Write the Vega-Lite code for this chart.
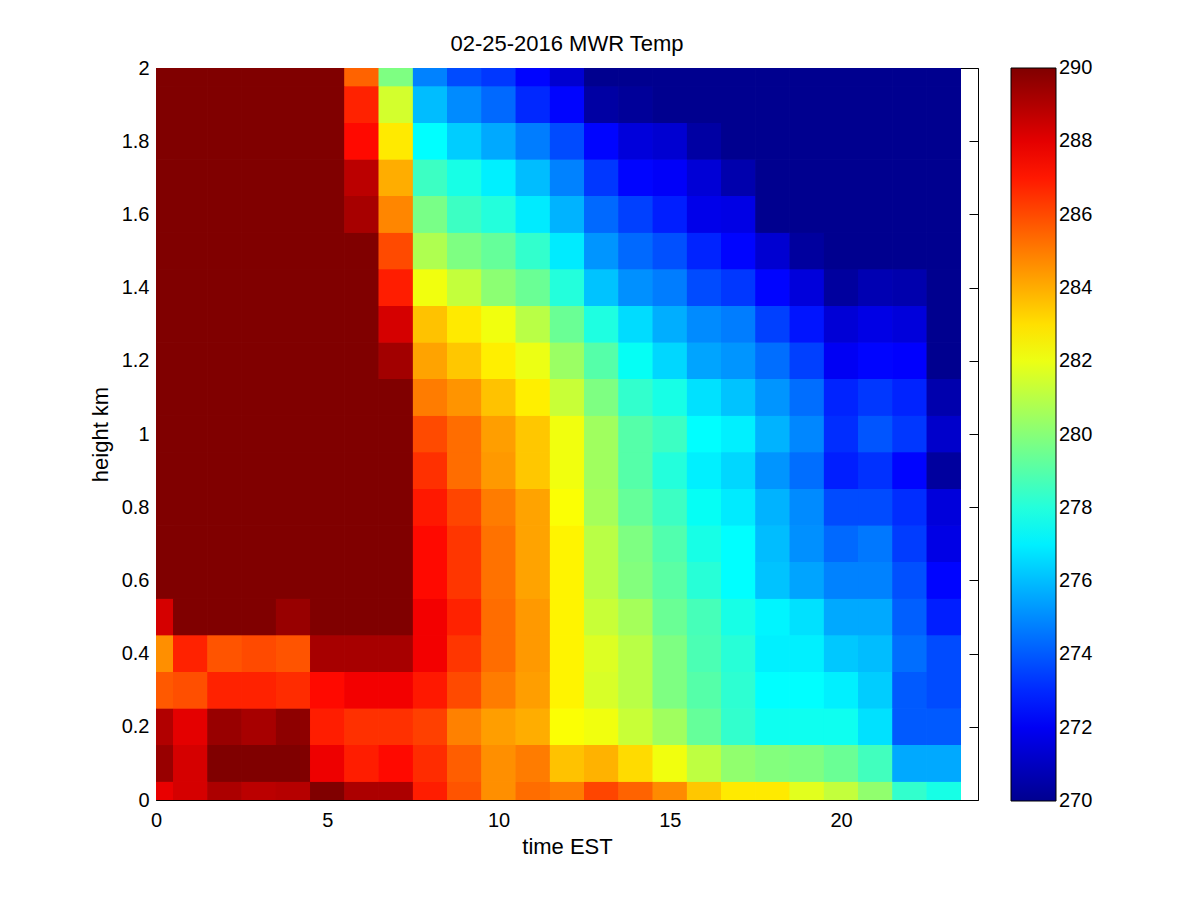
{"$schema":"https://vega.github.io/schema/vega-lite/v6.json","autosize":{"type":"none"},"width":822,"height":732,"padding":{"left":156,"top":68,"right":222,"bottom":100},"background":"white","config":{"view":{"stroke":null},"axis":{"grid":false,"labelFont":"Liberation Sans","titleFont":"Liberation Sans","labelFontSize":20,"titleFontSize":22,"titleFontWeight":"normal","labelColor":"black","titleColor":"black","domainColor":"black","tickColor":"black","domainWidth":1,"tickWidth":1,"labelOverlap":false,"labelFlush":false,"zindex":1},"title":{"font":"Liberation Sans","fontSize":22,"fontWeight":"normal","color":"black"}},
"data":{"values":[
{"t0":0,"t1":0.5,"h0":0,"h1":0.05,"temp":287.9},{"t0":0.5,"t1":1.5,"h0":0,"h1":0.05,"temp":288.3},{"t0":1.5,"t1":2.5,"h0":0,"h1":0.05,"temp":289.1},{"t0":2.5,"t1":3.5,"h0":0,"h1":0.05,"temp":288.8},{"t0":3.5,"t1":4.5,"h0":0,"h1":0.05,"temp":288.9},{"t0":4.5,"t1":5.5,"h0":0,"h1":0.05,"temp":290},{"t0":5.5,"t1":6.5,"h0":0,"h1":0.05,"temp":289.1},{"t0":6.5,"t1":7.5,"h0":0,"h1":0.05,"temp":289.1},{"t0":7.5,"t1":8.5,"h0":0,"h1":0.05,"temp":286.9},{"t0":8.5,"t1":9.5,"h0":0,"h1":0.05,"temp":285.8},{"t0":9.5,"t1":10.5,"h0":0,"h1":0.05,"temp":284.6},{"t0":10.5,"t1":11.5,"h0":0,"h1":0.05,"temp":285.3},{"t0":11.5,"t1":12.5,"h0":0,"h1":0.05,"temp":285},{"t0":12.5,"t1":13.5,"h0":0,"h1":0.05,"temp":286.1},{"t0":13.5,"t1":14.5,"h0":0,"h1":0.05,"temp":285.5},{"t0":14.5,"t1":15.5,"h0":0,"h1":0.05,"temp":284.7},{"t0":15.5,"t1":16.5,"h0":0,"h1":0.05,"temp":283.5},{"t0":16.5,"t1":17.5,"h0":0,"h1":0.05,"temp":282.8},{"t0":17.5,"t1":18.5,"h0":0,"h1":0.05,"temp":282.8},{"t0":18.5,"t1":19.5,"h0":0,"h1":0.05,"temp":281.8},{"t0":19.5,"t1":20.5,"h0":0,"h1":0.05,"temp":281.2},{"t0":20.5,"t1":21.5,"h0":0,"h1":0.05,"temp":280.2},{"t0":21.5,"t1":22.5,"h0":0,"h1":0.05,"temp":278.3},{"t0":22.5,"t1":23.5,"h0":0,"h1":0.05,"temp":277.8},
{"t0":0,"t1":0.5,"h0":0.05,"h1":0.15,"temp":289.5},{"t0":0.5,"t1":1.5,"h0":0.05,"h1":0.15,"temp":288.3},{"t0":1.5,"t1":2.5,"h0":0.05,"h1":0.15,"temp":290},{"t0":2.5,"t1":3.5,"h0":0.05,"h1":0.15,"temp":290},{"t0":3.5,"t1":4.5,"h0":0.05,"h1":0.15,"temp":290},{"t0":4.5,"t1":5.5,"h0":0.05,"h1":0.15,"temp":287.8},{"t0":5.5,"t1":6.5,"h0":0.05,"h1":0.15,"temp":286.9},{"t0":6.5,"t1":7.5,"h0":0.05,"h1":0.15,"temp":287.3},{"t0":7.5,"t1":8.5,"h0":0.05,"h1":0.15,"temp":286.6},{"t0":8.5,"t1":9.5,"h0":0.05,"h1":0.15,"temp":285.6},{"t0":9.5,"t1":10.5,"h0":0.05,"h1":0.15,"temp":284.6},{"t0":10.5,"t1":11.5,"h0":0.05,"h1":0.15,"temp":285},{"t0":11.5,"t1":12.5,"h0":0.05,"h1":0.15,"temp":283.6},{"t0":12.5,"t1":13.5,"h0":0.05,"h1":0.15,"temp":283.9},{"t0":13.5,"t1":14.5,"h0":0.05,"h1":0.15,"temp":283.1},{"t0":14.5,"t1":15.5,"h0":0.05,"h1":0.15,"temp":282.1},{"t0":15.5,"t1":16.5,"h0":0.05,"h1":0.15,"temp":281.1},{"t0":16.5,"t1":17.5,"h0":0.05,"h1":0.15,"temp":280.2},{"t0":17.5,"t1":18.5,"h0":0.05,"h1":0.15,"temp":279.9},{"t0":18.5,"t1":19.5,"h0":0.05,"h1":0.15,"temp":279.8},{"t0":19.5,"t1":20.5,"h0":0.05,"h1":0.15,"temp":279.4},{"t0":20.5,"t1":21.5,"h0":0.05,"h1":0.15,"temp":278.6},{"t0":21.5,"t1":22.5,"h0":0.05,"h1":0.15,"temp":275.6},{"t0":22.5,"t1":23.5,"h0":0.05,"h1":0.15,"temp":275.6},
{"t0":0,"t1":0.5,"h0":0.15,"h1":0.25,"temp":289},{"t0":0.5,"t1":1.5,"h0":0.15,"h1":0.25,"temp":288},{"t0":1.5,"t1":2.5,"h0":0.15,"h1":0.25,"temp":289.5},{"t0":2.5,"t1":3.5,"h0":0.15,"h1":0.25,"temp":289.2},{"t0":3.5,"t1":4.5,"h0":0.15,"h1":0.25,"temp":289.7},{"t0":4.5,"t1":5.5,"h0":0.15,"h1":0.25,"temp":286.9},{"t0":5.5,"t1":6.5,"h0":0.15,"h1":0.25,"temp":286.5},{"t0":6.5,"t1":7.5,"h0":0.15,"h1":0.25,"temp":286.5},{"t0":7.5,"t1":8.5,"h0":0.15,"h1":0.25,"temp":286.2},{"t0":8.5,"t1":9.5,"h0":0.15,"h1":0.25,"temp":284.9},{"t0":9.5,"t1":10.5,"h0":0.15,"h1":0.25,"temp":284.3},{"t0":10.5,"t1":11.5,"h0":0.15,"h1":0.25,"temp":284},{"t0":11.5,"t1":12.5,"h0":0.15,"h1":0.25,"temp":282.3},{"t0":12.5,"t1":13.5,"h0":0.15,"h1":0.25,"temp":282.1},{"t0":13.5,"t1":14.5,"h0":0.15,"h1":0.25,"temp":281.3},{"t0":14.5,"t1":15.5,"h0":0.15,"h1":0.25,"temp":280.5},{"t0":15.5,"t1":16.5,"h0":0.15,"h1":0.25,"temp":279.3},{"t0":16.5,"t1":17.5,"h0":0.15,"h1":0.25,"temp":278.3},{"t0":17.5,"t1":18.5,"h0":0.15,"h1":0.25,"temp":277.6},{"t0":18.5,"t1":19.5,"h0":0.15,"h1":0.25,"temp":277.6},{"t0":19.5,"t1":20.5,"h0":0.15,"h1":0.25,"temp":277.6},{"t0":20.5,"t1":21.5,"h0":0.15,"h1":0.25,"temp":276.7},{"t0":21.5,"t1":22.5,"h0":0.15,"h1":0.25,"temp":274},{"t0":22.5,"t1":23.5,"h0":0.15,"h1":0.25,"temp":274},
{"t0":0,"t1":0.5,"h0":0.25,"h1":0.35,"temp":285.7},{"t0":0.5,"t1":1.5,"h0":0.25,"h1":0.35,"temp":285.9},{"t0":1.5,"t1":2.5,"h0":0.25,"h1":0.35,"temp":286.8},{"t0":2.5,"t1":3.5,"h0":0.25,"h1":0.35,"temp":286.8},{"t0":3.5,"t1":4.5,"h0":0.25,"h1":0.35,"temp":286.6},{"t0":4.5,"t1":5.5,"h0":0.25,"h1":0.35,"temp":287.3},{"t0":5.5,"t1":6.5,"h0":0.25,"h1":0.35,"temp":287.7},{"t0":6.5,"t1":7.5,"h0":0.25,"h1":0.35,"temp":287.7},{"t0":7.5,"t1":8.5,"h0":0.25,"h1":0.35,"temp":287},{"t0":8.5,"t1":9.5,"h0":0.25,"h1":0.35,"temp":286},{"t0":9.5,"t1":10.5,"h0":0.25,"h1":0.35,"temp":285},{"t0":10.5,"t1":11.5,"h0":0.25,"h1":0.35,"temp":284.3},{"t0":11.5,"t1":12.5,"h0":0.25,"h1":0.35,"temp":282.6},{"t0":12.5,"t1":13.5,"h0":0.25,"h1":0.35,"temp":281.6},{"t0":13.5,"t1":14.5,"h0":0.25,"h1":0.35,"temp":281},{"t0":14.5,"t1":15.5,"h0":0.25,"h1":0.35,"temp":279.8},{"t0":15.5,"t1":16.5,"h0":0.25,"h1":0.35,"temp":279},{"t0":16.5,"t1":17.5,"h0":0.25,"h1":0.35,"temp":278.2},{"t0":17.5,"t1":18.5,"h0":0.25,"h1":0.35,"temp":277.3},{"t0":18.5,"t1":19.5,"h0":0.25,"h1":0.35,"temp":277.3},{"t0":19.5,"t1":20.5,"h0":0.25,"h1":0.35,"temp":277},{"t0":20.5,"t1":21.5,"h0":0.25,"h1":0.35,"temp":276.3},{"t0":21.5,"t1":22.5,"h0":0.25,"h1":0.35,"temp":274},{"t0":22.5,"t1":23.5,"h0":0.25,"h1":0.35,"temp":273.7},
{"t0":0,"t1":0.5,"h0":0.35,"h1":0.45,"temp":284.6},{"t0":0.5,"t1":1.5,"h0":0.35,"h1":0.45,"temp":286.8},{"t0":1.5,"t1":2.5,"h0":0.35,"h1":0.45,"temp":285.8},{"t0":2.5,"t1":3.5,"h0":0.35,"h1":0.45,"temp":286},{"t0":3.5,"t1":4.5,"h0":0.35,"h1":0.45,"temp":285.8},{"t0":4.5,"t1":5.5,"h0":0.35,"h1":0.45,"temp":289.2},{"t0":5.5,"t1":6.5,"h0":0.35,"h1":0.45,"temp":289.2},{"t0":6.5,"t1":7.5,"h0":0.35,"h1":0.45,"temp":289.2},{"t0":7.5,"t1":8.5,"h0":0.35,"h1":0.45,"temp":287.7},{"t0":8.5,"t1":9.5,"h0":0.35,"h1":0.45,"temp":286.4},{"t0":9.5,"t1":10.5,"h0":0.35,"h1":0.45,"temp":285.3},{"t0":10.5,"t1":11.5,"h0":0.35,"h1":0.45,"temp":284.4},{"t0":11.5,"t1":12.5,"h0":0.35,"h1":0.45,"temp":282.6},{"t0":12.5,"t1":13.5,"h0":0.35,"h1":0.45,"temp":281.7},{"t0":13.5,"t1":14.5,"h0":0.35,"h1":0.45,"temp":281},{"t0":14.5,"t1":15.5,"h0":0.35,"h1":0.45,"temp":279.8},{"t0":15.5,"t1":16.5,"h0":0.35,"h1":0.45,"temp":278.8},{"t0":16.5,"t1":17.5,"h0":0.35,"h1":0.45,"temp":278.1},{"t0":17.5,"t1":18.5,"h0":0.35,"h1":0.45,"temp":277},{"t0":18.5,"t1":19.5,"h0":0.35,"h1":0.45,"temp":277},{"t0":19.5,"t1":20.5,"h0":0.35,"h1":0.45,"temp":276.2},{"t0":20.5,"t1":21.5,"h0":0.35,"h1":0.45,"temp":276},{"t0":21.5,"t1":22.5,"h0":0.35,"h1":0.45,"temp":274.4},{"t0":22.5,"t1":23.5,"h0":0.35,"h1":0.45,"temp":273.7},
{"t0":0,"t1":0.5,"h0":0.45,"h1":0.55,"temp":288.3},{"t0":0.5,"t1":1.5,"h0":0.45,"h1":0.55,"temp":290},{"t0":1.5,"t1":2.5,"h0":0.45,"h1":0.55,"temp":290},{"t0":2.5,"t1":3.5,"h0":0.45,"h1":0.55,"temp":290},{"t0":3.5,"t1":4.5,"h0":0.45,"h1":0.55,"temp":289.5},{"t0":4.5,"t1":5.5,"h0":0.45,"h1":0.55,"temp":290},{"t0":5.5,"t1":6.5,"h0":0.45,"h1":0.55,"temp":290},{"t0":6.5,"t1":7.5,"h0":0.45,"h1":0.55,"temp":290},{"t0":7.5,"t1":8.5,"h0":0.45,"h1":0.55,"temp":287.7},{"t0":8.5,"t1":9.5,"h0":0.45,"h1":0.55,"temp":286.8},{"t0":9.5,"t1":10.5,"h0":0.45,"h1":0.55,"temp":285.3},{"t0":10.5,"t1":11.5,"h0":0.45,"h1":0.55,"temp":284.4},{"t0":11.5,"t1":12.5,"h0":0.45,"h1":0.55,"temp":282.6},{"t0":12.5,"t1":13.5,"h0":0.45,"h1":0.55,"temp":281.3},{"t0":13.5,"t1":14.5,"h0":0.45,"h1":0.55,"temp":280.6},{"t0":14.5,"t1":15.5,"h0":0.45,"h1":0.55,"temp":279.4},{"t0":15.5,"t1":16.5,"h0":0.45,"h1":0.55,"temp":278.7},{"t0":16.5,"t1":17.5,"h0":0.45,"h1":0.55,"temp":277.8},{"t0":17.5,"t1":18.5,"h0":0.45,"h1":0.55,"temp":277.1},{"t0":18.5,"t1":19.5,"h0":0.45,"h1":0.55,"temp":276.7},{"t0":19.5,"t1":20.5,"h0":0.45,"h1":0.55,"temp":275.6},{"t0":20.5,"t1":21.5,"h0":0.45,"h1":0.55,"temp":275.6},{"t0":21.5,"t1":22.5,"h0":0.45,"h1":0.55,"temp":274.1},{"t0":22.5,"t1":23.5,"h0":0.45,"h1":0.55,"temp":272.8},
{"t0":0,"t1":0.5,"h0":0.55,"h1":0.65,"temp":290},{"t0":0.5,"t1":1.5,"h0":0.55,"h1":0.65,"temp":290},{"t0":1.5,"t1":2.5,"h0":0.55,"h1":0.65,"temp":290},{"t0":2.5,"t1":3.5,"h0":0.55,"h1":0.65,"temp":290},{"t0":3.5,"t1":4.5,"h0":0.55,"h1":0.65,"temp":290},{"t0":4.5,"t1":5.5,"h0":0.55,"h1":0.65,"temp":290},{"t0":5.5,"t1":6.5,"h0":0.55,"h1":0.65,"temp":290},{"t0":6.5,"t1":7.5,"h0":0.55,"h1":0.65,"temp":290},{"t0":7.5,"t1":8.5,"h0":0.55,"h1":0.65,"temp":287.3},{"t0":8.5,"t1":9.5,"h0":0.55,"h1":0.65,"temp":286.4},{"t0":9.5,"t1":10.5,"h0":0.55,"h1":0.65,"temp":285.2},{"t0":10.5,"t1":11.5,"h0":0.55,"h1":0.65,"temp":284.2},{"t0":11.5,"t1":12.5,"h0":0.55,"h1":0.65,"temp":282.6},{"t0":12.5,"t1":13.5,"h0":0.55,"h1":0.65,"temp":281},{"t0":13.5,"t1":14.5,"h0":0.55,"h1":0.65,"temp":279.9},{"t0":14.5,"t1":15.5,"h0":0.55,"h1":0.65,"temp":279.1},{"t0":15.5,"t1":16.5,"h0":0.55,"h1":0.65,"temp":278.1},{"t0":16.5,"t1":17.5,"h0":0.55,"h1":0.65,"temp":277.3},{"t0":17.5,"t1":18.5,"h0":0.55,"h1":0.65,"temp":276.1},{"t0":18.5,"t1":19.5,"h0":0.55,"h1":0.65,"temp":275.5},{"t0":19.5,"t1":20.5,"h0":0.55,"h1":0.65,"temp":274.8},{"t0":20.5,"t1":21.5,"h0":0.55,"h1":0.65,"temp":274.8},{"t0":21.5,"t1":22.5,"h0":0.55,"h1":0.65,"temp":273.8},{"t0":22.5,"t1":23.5,"h0":0.55,"h1":0.65,"temp":272.3},
{"t0":0,"t1":0.5,"h0":0.65,"h1":0.75,"temp":290},{"t0":0.5,"t1":1.5,"h0":0.65,"h1":0.75,"temp":290},{"t0":1.5,"t1":2.5,"h0":0.65,"h1":0.75,"temp":290},{"t0":2.5,"t1":3.5,"h0":0.65,"h1":0.75,"temp":290},{"t0":3.5,"t1":4.5,"h0":0.65,"h1":0.75,"temp":290},{"t0":4.5,"t1":5.5,"h0":0.65,"h1":0.75,"temp":290},{"t0":5.5,"t1":6.5,"h0":0.65,"h1":0.75,"temp":290},{"t0":6.5,"t1":7.5,"h0":0.65,"h1":0.75,"temp":290},{"t0":7.5,"t1":8.5,"h0":0.65,"h1":0.75,"temp":287.3},{"t0":8.5,"t1":9.5,"h0":0.65,"h1":0.75,"temp":286.4},{"t0":9.5,"t1":10.5,"h0":0.65,"h1":0.75,"temp":285.2},{"t0":10.5,"t1":11.5,"h0":0.65,"h1":0.75,"temp":284.2},{"t0":11.5,"t1":12.5,"h0":0.65,"h1":0.75,"temp":282.6},{"t0":12.5,"t1":13.5,"h0":0.65,"h1":0.75,"temp":281},{"t0":13.5,"t1":14.5,"h0":0.65,"h1":0.75,"temp":279.8},{"t0":14.5,"t1":15.5,"h0":0.65,"h1":0.75,"temp":278.9},{"t0":15.5,"t1":16.5,"h0":0.65,"h1":0.75,"temp":277.8},{"t0":16.5,"t1":17.5,"h0":0.65,"h1":0.75,"temp":277.3},{"t0":17.5,"t1":18.5,"h0":0.65,"h1":0.75,"temp":276},{"t0":18.5,"t1":19.5,"h0":0.65,"h1":0.75,"temp":275.1},{"t0":19.5,"t1":20.5,"h0":0.65,"h1":0.75,"temp":274.3},{"t0":20.5,"t1":21.5,"h0":0.65,"h1":0.75,"temp":274.6},{"t0":21.5,"t1":22.5,"h0":0.65,"h1":0.75,"temp":273.4},{"t0":22.5,"t1":23.5,"h0":0.65,"h1":0.75,"temp":271.7},
{"t0":0,"t1":0.5,"h0":0.75,"h1":0.85,"temp":290},{"t0":0.5,"t1":1.5,"h0":0.75,"h1":0.85,"temp":290},{"t0":1.5,"t1":2.5,"h0":0.75,"h1":0.85,"temp":290},{"t0":2.5,"t1":3.5,"h0":0.75,"h1":0.85,"temp":290},{"t0":3.5,"t1":4.5,"h0":0.75,"h1":0.85,"temp":290},{"t0":4.5,"t1":5.5,"h0":0.75,"h1":0.85,"temp":290},{"t0":5.5,"t1":6.5,"h0":0.75,"h1":0.85,"temp":290},{"t0":6.5,"t1":7.5,"h0":0.75,"h1":0.85,"temp":290},{"t0":7.5,"t1":8.5,"h0":0.75,"h1":0.85,"temp":287},{"t0":8.5,"t1":9.5,"h0":0.75,"h1":0.85,"temp":286.1},{"t0":9.5,"t1":10.5,"h0":0.75,"h1":0.85,"temp":285},{"t0":10.5,"t1":11.5,"h0":0.75,"h1":0.85,"temp":284.2},{"t0":11.5,"t1":12.5,"h0":0.75,"h1":0.85,"temp":282.3},{"t0":12.5,"t1":13.5,"h0":0.75,"h1":0.85,"temp":280.6},{"t0":13.5,"t1":14.5,"h0":0.75,"h1":0.85,"temp":279.3},{"t0":14.5,"t1":15.5,"h0":0.75,"h1":0.85,"temp":278.5},{"t0":15.5,"t1":16.5,"h0":0.75,"h1":0.85,"temp":277.5},{"t0":16.5,"t1":17.5,"h0":0.75,"h1":0.85,"temp":276.9},{"t0":17.5,"t1":18.5,"h0":0.75,"h1":0.85,"temp":275.8},{"t0":18.5,"t1":19.5,"h0":0.75,"h1":0.85,"temp":275},{"t0":19.5,"t1":20.5,"h0":0.75,"h1":0.85,"temp":273.7},{"t0":20.5,"t1":21.5,"h0":0.75,"h1":0.85,"temp":273.7},{"t0":21.5,"t1":22.5,"h0":0.75,"h1":0.85,"temp":273.1},{"t0":22.5,"t1":23.5,"h0":0.75,"h1":0.85,"temp":271.5},
{"t0":0,"t1":0.5,"h0":0.85,"h1":0.95,"temp":290},{"t0":0.5,"t1":1.5,"h0":0.85,"h1":0.95,"temp":290},{"t0":1.5,"t1":2.5,"h0":0.85,"h1":0.95,"temp":290},{"t0":2.5,"t1":3.5,"h0":0.85,"h1":0.95,"temp":290},{"t0":3.5,"t1":4.5,"h0":0.85,"h1":0.95,"temp":290},{"t0":4.5,"t1":5.5,"h0":0.85,"h1":0.95,"temp":290},{"t0":5.5,"t1":6.5,"h0":0.85,"h1":0.95,"temp":290},{"t0":6.5,"t1":7.5,"h0":0.85,"h1":0.95,"temp":290},{"t0":7.5,"t1":8.5,"h0":0.85,"h1":0.95,"temp":286.5},{"t0":8.5,"t1":9.5,"h0":0.85,"h1":0.95,"temp":285.3},{"t0":9.5,"t1":10.5,"h0":0.85,"h1":0.95,"temp":284.4},{"t0":10.5,"t1":11.5,"h0":0.85,"h1":0.95,"temp":283.5},{"t0":11.5,"t1":12.5,"h0":0.85,"h1":0.95,"temp":282.1},{"t0":12.5,"t1":13.5,"h0":0.85,"h1":0.95,"temp":280.5},{"t0":13.5,"t1":14.5,"h0":0.85,"h1":0.95,"temp":279},{"t0":14.5,"t1":15.5,"h0":0.85,"h1":0.95,"temp":278},{"t0":15.5,"t1":16.5,"h0":0.85,"h1":0.95,"temp":277},{"t0":16.5,"t1":17.5,"h0":0.85,"h1":0.95,"temp":276.5},{"t0":17.5,"t1":18.5,"h0":0.85,"h1":0.95,"temp":275.2},{"t0":18.5,"t1":19.5,"h0":0.85,"h1":0.95,"temp":274.4},{"t0":19.5,"t1":20.5,"h0":0.85,"h1":0.95,"temp":272.8},{"t0":20.5,"t1":21.5,"h0":0.85,"h1":0.95,"temp":273.2},{"t0":21.5,"t1":22.5,"h0":0.85,"h1":0.95,"temp":272.3},{"t0":22.5,"t1":23.5,"h0":0.85,"h1":0.95,"temp":270.3},
{"t0":0,"t1":0.5,"h0":0.95,"h1":1.05,"temp":290},{"t0":0.5,"t1":1.5,"h0":0.95,"h1":1.05,"temp":290},{"t0":1.5,"t1":2.5,"h0":0.95,"h1":1.05,"temp":290},{"t0":2.5,"t1":3.5,"h0":0.95,"h1":1.05,"temp":290},{"t0":3.5,"t1":4.5,"h0":0.95,"h1":1.05,"temp":290},{"t0":4.5,"t1":5.5,"h0":0.95,"h1":1.05,"temp":290},{"t0":5.5,"t1":6.5,"h0":0.95,"h1":1.05,"temp":290},{"t0":6.5,"t1":7.5,"h0":0.95,"h1":1.05,"temp":290},{"t0":7.5,"t1":8.5,"h0":0.95,"h1":1.05,"temp":286},{"t0":8.5,"t1":9.5,"h0":0.95,"h1":1.05,"temp":285.3},{"t0":9.5,"t1":10.5,"h0":0.95,"h1":1.05,"temp":284.3},{"t0":10.5,"t1":11.5,"h0":0.95,"h1":1.05,"temp":283.5},{"t0":11.5,"t1":12.5,"h0":0.95,"h1":1.05,"temp":282.1},{"t0":12.5,"t1":13.5,"h0":0.95,"h1":1.05,"temp":280.5},{"t0":13.5,"t1":14.5,"h0":0.95,"h1":1.05,"temp":279},{"t0":14.5,"t1":15.5,"h0":0.95,"h1":1.05,"temp":278.5},{"t0":15.5,"t1":16.5,"h0":0.95,"h1":1.05,"temp":277.3},{"t0":16.5,"t1":17.5,"h0":0.95,"h1":1.05,"temp":277},{"t0":17.5,"t1":18.5,"h0":0.95,"h1":1.05,"temp":275.8},{"t0":18.5,"t1":19.5,"h0":0.95,"h1":1.05,"temp":274.9},{"t0":19.5,"t1":20.5,"h0":0.95,"h1":1.05,"temp":273.1},{"t0":20.5,"t1":21.5,"h0":0.95,"h1":1.05,"temp":273.9},{"t0":21.5,"t1":22.5,"h0":0.95,"h1":1.05,"temp":273.3},{"t0":22.5,"t1":23.5,"h0":0.95,"h1":1.05,"temp":271.2},
{"t0":0,"t1":0.5,"h0":1.05,"h1":1.15,"temp":290},{"t0":0.5,"t1":1.5,"h0":1.05,"h1":1.15,"temp":290},{"t0":1.5,"t1":2.5,"h0":1.05,"h1":1.15,"temp":290},{"t0":2.5,"t1":3.5,"h0":1.05,"h1":1.15,"temp":290},{"t0":3.5,"t1":4.5,"h0":1.05,"h1":1.15,"temp":290},{"t0":4.5,"t1":5.5,"h0":1.05,"h1":1.15,"temp":290},{"t0":5.5,"t1":6.5,"h0":1.05,"h1":1.15,"temp":290},{"t0":6.5,"t1":7.5,"h0":1.05,"h1":1.15,"temp":290},{"t0":7.5,"t1":8.5,"h0":1.05,"h1":1.15,"temp":285},{"t0":8.5,"t1":9.5,"h0":1.05,"h1":1.15,"temp":284.5},{"t0":9.5,"t1":10.5,"h0":1.05,"h1":1.15,"temp":283.6},{"t0":10.5,"t1":11.5,"h0":1.05,"h1":1.15,"temp":282.7},{"t0":11.5,"t1":12.5,"h0":1.05,"h1":1.15,"temp":281.3},{"t0":12.5,"t1":13.5,"h0":1.05,"h1":1.15,"temp":279.8},{"t0":13.5,"t1":14.5,"h0":1.05,"h1":1.15,"temp":278.3},{"t0":14.5,"t1":15.5,"h0":1.05,"h1":1.15,"temp":277.8},{"t0":15.5,"t1":16.5,"h0":1.05,"h1":1.15,"temp":276.7},{"t0":16.5,"t1":17.5,"h0":1.05,"h1":1.15,"temp":276.1},{"t0":17.5,"t1":18.5,"h0":1.05,"h1":1.15,"temp":275.2},{"t0":18.5,"t1":19.5,"h0":1.05,"h1":1.15,"temp":274.4},{"t0":19.5,"t1":20.5,"h0":1.05,"h1":1.15,"temp":272.9},{"t0":20.5,"t1":21.5,"h0":1.05,"h1":1.15,"temp":273.3},{"t0":21.5,"t1":22.5,"h0":1.05,"h1":1.15,"temp":272.9},{"t0":22.5,"t1":23.5,"h0":1.05,"h1":1.15,"temp":270.6},
{"t0":0,"t1":0.5,"h0":1.15,"h1":1.25,"temp":290},{"t0":0.5,"t1":1.5,"h0":1.15,"h1":1.25,"temp":290},{"t0":1.5,"t1":2.5,"h0":1.15,"h1":1.25,"temp":290},{"t0":2.5,"t1":3.5,"h0":1.15,"h1":1.25,"temp":290},{"t0":3.5,"t1":4.5,"h0":1.15,"h1":1.25,"temp":290},{"t0":4.5,"t1":5.5,"h0":1.15,"h1":1.25,"temp":290},{"t0":5.5,"t1":6.5,"h0":1.15,"h1":1.25,"temp":290},{"t0":6.5,"t1":7.5,"h0":1.15,"h1":1.25,"temp":289.3},{"t0":7.5,"t1":8.5,"h0":1.15,"h1":1.25,"temp":284.2},{"t0":8.5,"t1":9.5,"h0":1.15,"h1":1.25,"temp":283.5},{"t0":9.5,"t1":10.5,"h0":1.15,"h1":1.25,"temp":282.7},{"t0":10.5,"t1":11.5,"h0":1.15,"h1":1.25,"temp":282},{"t0":11.5,"t1":12.5,"h0":1.15,"h1":1.25,"temp":280.4},{"t0":12.5,"t1":13.5,"h0":1.15,"h1":1.25,"temp":279},{"t0":13.5,"t1":14.5,"h0":1.15,"h1":1.25,"temp":277.5},{"t0":14.5,"t1":15.5,"h0":1.15,"h1":1.25,"temp":276.5},{"t0":15.5,"t1":16.5,"h0":1.15,"h1":1.25,"temp":275.5},{"t0":16.5,"t1":17.5,"h0":1.15,"h1":1.25,"temp":275.2},{"t0":17.5,"t1":18.5,"h0":1.15,"h1":1.25,"temp":274.4},{"t0":18.5,"t1":19.5,"h0":1.15,"h1":1.25,"temp":273.5},{"t0":19.5,"t1":20.5,"h0":1.15,"h1":1.25,"temp":272},{"t0":20.5,"t1":21.5,"h0":1.15,"h1":1.25,"temp":272.3},{"t0":21.5,"t1":22.5,"h0":1.15,"h1":1.25,"temp":272.2},{"t0":22.5,"t1":23.5,"h0":1.15,"h1":1.25,"temp":270},
{"t0":0,"t1":0.5,"h0":1.25,"h1":1.35,"temp":290},{"t0":0.5,"t1":1.5,"h0":1.25,"h1":1.35,"temp":290},{"t0":1.5,"t1":2.5,"h0":1.25,"h1":1.35,"temp":290},{"t0":2.5,"t1":3.5,"h0":1.25,"h1":1.35,"temp":290},{"t0":3.5,"t1":4.5,"h0":1.25,"h1":1.35,"temp":290},{"t0":4.5,"t1":5.5,"h0":1.25,"h1":1.35,"temp":290},{"t0":5.5,"t1":6.5,"h0":1.25,"h1":1.35,"temp":290},{"t0":6.5,"t1":7.5,"h0":1.25,"h1":1.35,"temp":288.3},{"t0":7.5,"t1":8.5,"h0":1.25,"h1":1.35,"temp":283.6},{"t0":8.5,"t1":9.5,"h0":1.25,"h1":1.35,"temp":282.8},{"t0":9.5,"t1":10.5,"h0":1.25,"h1":1.35,"temp":282.1},{"t0":10.5,"t1":11.5,"h0":1.25,"h1":1.35,"temp":281},{"t0":11.5,"t1":12.5,"h0":1.25,"h1":1.35,"temp":279.4},{"t0":12.5,"t1":13.5,"h0":1.25,"h1":1.35,"temp":277.9},{"t0":13.5,"t1":14.5,"h0":1.25,"h1":1.35,"temp":276.6},{"t0":14.5,"t1":15.5,"h0":1.25,"h1":1.35,"temp":275.7},{"t0":15.5,"t1":16.5,"h0":1.25,"h1":1.35,"temp":275},{"t0":16.5,"t1":17.5,"h0":1.25,"h1":1.35,"temp":274.7},{"t0":17.5,"t1":18.5,"h0":1.25,"h1":1.35,"temp":273.5},{"t0":18.5,"t1":19.5,"h0":1.25,"h1":1.35,"temp":272.6},{"t0":19.5,"t1":20.5,"h0":1.25,"h1":1.35,"temp":271.4},{"t0":20.5,"t1":21.5,"h0":1.25,"h1":1.35,"temp":271.7},{"t0":21.5,"t1":22.5,"h0":1.25,"h1":1.35,"temp":271.5},{"t0":22.5,"t1":23.5,"h0":1.25,"h1":1.35,"temp":270},
{"t0":0,"t1":0.5,"h0":1.35,"h1":1.45,"temp":290},{"t0":0.5,"t1":1.5,"h0":1.35,"h1":1.45,"temp":290},{"t0":1.5,"t1":2.5,"h0":1.35,"h1":1.45,"temp":290},{"t0":2.5,"t1":3.5,"h0":1.35,"h1":1.45,"temp":290},{"t0":3.5,"t1":4.5,"h0":1.35,"h1":1.45,"temp":290},{"t0":4.5,"t1":5.5,"h0":1.35,"h1":1.45,"temp":290},{"t0":5.5,"t1":6.5,"h0":1.35,"h1":1.45,"temp":290},{"t0":6.5,"t1":7.5,"h0":1.35,"h1":1.45,"temp":286.9},{"t0":7.5,"t1":8.5,"h0":1.35,"h1":1.45,"temp":282.1},{"t0":8.5,"t1":9.5,"h0":1.35,"h1":1.45,"temp":281.2},{"t0":9.5,"t1":10.5,"h0":1.35,"h1":1.45,"temp":280.1},{"t0":10.5,"t1":11.5,"h0":1.35,"h1":1.45,"temp":279.4},{"t0":11.5,"t1":12.5,"h0":1.35,"h1":1.45,"temp":278},{"t0":12.5,"t1":13.5,"h0":1.35,"h1":1.45,"temp":276.1},{"t0":13.5,"t1":14.5,"h0":1.35,"h1":1.45,"temp":275.1},{"t0":14.5,"t1":15.5,"h0":1.35,"h1":1.45,"temp":274.7},{"t0":15.5,"t1":16.5,"h0":1.35,"h1":1.45,"temp":273.7},{"t0":16.5,"t1":17.5,"h0":1.35,"h1":1.45,"temp":273.3},{"t0":17.5,"t1":18.5,"h0":1.35,"h1":1.45,"temp":272.3},{"t0":18.5,"t1":19.5,"h0":1.35,"h1":1.45,"temp":271.5},{"t0":19.5,"t1":20.5,"h0":1.35,"h1":1.45,"temp":270.3},{"t0":20.5,"t1":21.5,"h0":1.35,"h1":1.45,"temp":270.7},{"t0":21.5,"t1":22.5,"h0":1.35,"h1":1.45,"temp":270.6},{"t0":22.5,"t1":23.5,"h0":1.35,"h1":1.45,"temp":270},
{"t0":0,"t1":0.5,"h0":1.45,"h1":1.55,"temp":290},{"t0":0.5,"t1":1.5,"h0":1.45,"h1":1.55,"temp":290},{"t0":1.5,"t1":2.5,"h0":1.45,"h1":1.55,"temp":290},{"t0":2.5,"t1":3.5,"h0":1.45,"h1":1.55,"temp":290},{"t0":3.5,"t1":4.5,"h0":1.45,"h1":1.55,"temp":290},{"t0":4.5,"t1":5.5,"h0":1.45,"h1":1.55,"temp":290},{"t0":5.5,"t1":6.5,"h0":1.45,"h1":1.55,"temp":290},{"t0":6.5,"t1":7.5,"h0":1.45,"h1":1.55,"temp":286},{"t0":7.5,"t1":8.5,"h0":1.45,"h1":1.55,"temp":280.8},{"t0":8.5,"t1":9.5,"h0":1.45,"h1":1.55,"temp":279.8},{"t0":9.5,"t1":10.5,"h0":1.45,"h1":1.55,"temp":279.3},{"t0":10.5,"t1":11.5,"h0":1.45,"h1":1.55,"temp":278.3},{"t0":11.5,"t1":12.5,"h0":1.45,"h1":1.55,"temp":276.9},{"t0":12.5,"t1":13.5,"h0":1.45,"h1":1.55,"temp":275.2},{"t0":13.5,"t1":14.5,"h0":1.45,"h1":1.55,"temp":274.3},{"t0":14.5,"t1":15.5,"h0":1.45,"h1":1.55,"temp":273.8},{"t0":15.5,"t1":16.5,"h0":1.45,"h1":1.55,"temp":272.9},{"t0":16.5,"t1":17.5,"h0":1.45,"h1":1.55,"temp":272.3},{"t0":17.5,"t1":18.5,"h0":1.45,"h1":1.55,"temp":271.3},{"t0":18.5,"t1":19.5,"h0":1.45,"h1":1.55,"temp":270.3},{"t0":19.5,"t1":20.5,"h0":1.45,"h1":1.55,"temp":270},{"t0":20.5,"t1":21.5,"h0":1.45,"h1":1.55,"temp":270},{"t0":21.5,"t1":22.5,"h0":1.45,"h1":1.55,"temp":270},{"t0":22.5,"t1":23.5,"h0":1.45,"h1":1.55,"temp":270},
{"t0":0,"t1":0.5,"h0":1.55,"h1":1.65,"temp":290},{"t0":0.5,"t1":1.5,"h0":1.55,"h1":1.65,"temp":290},{"t0":1.5,"t1":2.5,"h0":1.55,"h1":1.65,"temp":290},{"t0":2.5,"t1":3.5,"h0":1.55,"h1":1.65,"temp":290},{"t0":3.5,"t1":4.5,"h0":1.55,"h1":1.65,"temp":290},{"t0":4.5,"t1":5.5,"h0":1.55,"h1":1.65,"temp":290},{"t0":5.5,"t1":6.5,"h0":1.55,"h1":1.65,"temp":289.2},{"t0":6.5,"t1":7.5,"h0":1.55,"h1":1.65,"temp":284.8},{"t0":7.5,"t1":8.5,"h0":1.55,"h1":1.65,"temp":279.7},{"t0":8.5,"t1":9.5,"h0":1.55,"h1":1.65,"temp":278.5},{"t0":9.5,"t1":10.5,"h0":1.55,"h1":1.65,"temp":278},{"t0":10.5,"t1":11.5,"h0":1.55,"h1":1.65,"temp":276.9},{"t0":11.5,"t1":12.5,"h0":1.55,"h1":1.65,"temp":275.8},{"t0":12.5,"t1":13.5,"h0":1.55,"h1":1.65,"temp":274.3},{"t0":13.5,"t1":14.5,"h0":1.55,"h1":1.65,"temp":273.5},{"t0":14.5,"t1":15.5,"h0":1.55,"h1":1.65,"temp":272.8},{"t0":15.5,"t1":16.5,"h0":1.55,"h1":1.65,"temp":271.8},{"t0":16.5,"t1":17.5,"h0":1.55,"h1":1.65,"temp":271.7},{"t0":17.5,"t1":18.5,"h0":1.55,"h1":1.65,"temp":270},{"t0":18.5,"t1":19.5,"h0":1.55,"h1":1.65,"temp":270},{"t0":19.5,"t1":20.5,"h0":1.55,"h1":1.65,"temp":270},{"t0":20.5,"t1":21.5,"h0":1.55,"h1":1.65,"temp":270},{"t0":21.5,"t1":22.5,"h0":1.55,"h1":1.65,"temp":270},{"t0":22.5,"t1":23.5,"h0":1.55,"h1":1.65,"temp":270},
{"t0":0,"t1":0.5,"h0":1.65,"h1":1.75,"temp":290},{"t0":0.5,"t1":1.5,"h0":1.65,"h1":1.75,"temp":290},{"t0":1.5,"t1":2.5,"h0":1.65,"h1":1.75,"temp":290},{"t0":2.5,"t1":3.5,"h0":1.65,"h1":1.75,"temp":290},{"t0":3.5,"t1":4.5,"h0":1.65,"h1":1.75,"temp":290},{"t0":4.5,"t1":5.5,"h0":1.65,"h1":1.75,"temp":290},{"t0":5.5,"t1":6.5,"h0":1.65,"h1":1.75,"temp":288.8},{"t0":6.5,"t1":7.5,"h0":1.65,"h1":1.75,"temp":284},{"t0":7.5,"t1":8.5,"h0":1.65,"h1":1.75,"temp":278.5},{"t0":8.5,"t1":9.5,"h0":1.65,"h1":1.75,"temp":277.8},{"t0":9.5,"t1":10.5,"h0":1.65,"h1":1.75,"temp":277},{"t0":10.5,"t1":11.5,"h0":1.65,"h1":1.75,"temp":276},{"t0":11.5,"t1":12.5,"h0":1.65,"h1":1.75,"temp":274.8},{"t0":12.5,"t1":13.5,"h0":1.65,"h1":1.75,"temp":273.3},{"t0":13.5,"t1":14.5,"h0":1.65,"h1":1.75,"temp":272.3},{"t0":14.5,"t1":15.5,"h0":1.65,"h1":1.75,"temp":272.1},{"t0":15.5,"t1":16.5,"h0":1.65,"h1":1.75,"temp":271.4},{"t0":16.5,"t1":17.5,"h0":1.65,"h1":1.75,"temp":270.6},{"t0":17.5,"t1":18.5,"h0":1.65,"h1":1.75,"temp":270},{"t0":18.5,"t1":19.5,"h0":1.65,"h1":1.75,"temp":270},{"t0":19.5,"t1":20.5,"h0":1.65,"h1":1.75,"temp":270},{"t0":20.5,"t1":21.5,"h0":1.65,"h1":1.75,"temp":270},{"t0":21.5,"t1":22.5,"h0":1.65,"h1":1.75,"temp":270},{"t0":22.5,"t1":23.5,"h0":1.65,"h1":1.75,"temp":270},
{"t0":0,"t1":0.5,"h0":1.75,"h1":1.85,"temp":290},{"t0":0.5,"t1":1.5,"h0":1.75,"h1":1.85,"temp":290},{"t0":1.5,"t1":2.5,"h0":1.75,"h1":1.85,"temp":290},{"t0":2.5,"t1":3.5,"h0":1.75,"h1":1.85,"temp":290},{"t0":3.5,"t1":4.5,"h0":1.75,"h1":1.85,"temp":290},{"t0":4.5,"t1":5.5,"h0":1.75,"h1":1.85,"temp":290},{"t0":5.5,"t1":6.5,"h0":1.75,"h1":1.85,"temp":287.3},{"t0":6.5,"t1":7.5,"h0":1.75,"h1":1.85,"temp":282.8},{"t0":7.5,"t1":8.5,"h0":1.75,"h1":1.85,"temp":277.3},{"t0":8.5,"t1":9.5,"h0":1.75,"h1":1.85,"temp":276.3},{"t0":9.5,"t1":10.5,"h0":1.75,"h1":1.85,"temp":275.6},{"t0":10.5,"t1":11.5,"h0":1.75,"h1":1.85,"temp":274.7},{"t0":11.5,"t1":12.5,"h0":1.75,"h1":1.85,"temp":273.7},{"t0":12.5,"t1":13.5,"h0":1.75,"h1":1.85,"temp":272.3},{"t0":13.5,"t1":14.5,"h0":1.75,"h1":1.85,"temp":271.5},{"t0":14.5,"t1":15.5,"h0":1.75,"h1":1.85,"temp":271.3},{"t0":15.5,"t1":16.5,"h0":1.75,"h1":1.85,"temp":270.4},{"t0":16.5,"t1":17.5,"h0":1.75,"h1":1.85,"temp":270},{"t0":17.5,"t1":18.5,"h0":1.75,"h1":1.85,"temp":270},{"t0":18.5,"t1":19.5,"h0":1.75,"h1":1.85,"temp":270},{"t0":19.5,"t1":20.5,"h0":1.75,"h1":1.85,"temp":270},{"t0":20.5,"t1":21.5,"h0":1.75,"h1":1.85,"temp":270},{"t0":21.5,"t1":22.5,"h0":1.75,"h1":1.85,"temp":270},{"t0":22.5,"t1":23.5,"h0":1.75,"h1":1.85,"temp":270},
{"t0":0,"t1":0.5,"h0":1.85,"h1":1.95,"temp":290},{"t0":0.5,"t1":1.5,"h0":1.85,"h1":1.95,"temp":290},{"t0":1.5,"t1":2.5,"h0":1.85,"h1":1.95,"temp":290},{"t0":2.5,"t1":3.5,"h0":1.85,"h1":1.95,"temp":290},{"t0":3.5,"t1":4.5,"h0":1.85,"h1":1.95,"temp":290},{"t0":4.5,"t1":5.5,"h0":1.85,"h1":1.95,"temp":290},{"t0":5.5,"t1":6.5,"h0":1.85,"h1":1.95,"temp":286.8},{"t0":6.5,"t1":7.5,"h0":1.85,"h1":1.95,"temp":281.5},{"t0":7.5,"t1":8.5,"h0":1.85,"h1":1.95,"temp":276},{"t0":8.5,"t1":9.5,"h0":1.85,"h1":1.95,"temp":275},{"t0":9.5,"t1":10.5,"h0":1.85,"h1":1.95,"temp":274.3},{"t0":10.5,"t1":11.5,"h0":1.85,"h1":1.95,"temp":273},{"t0":11.5,"t1":12.5,"h0":1.85,"h1":1.95,"temp":272.3},{"t0":12.5,"t1":13.5,"h0":1.85,"h1":1.95,"temp":270.4},{"t0":13.5,"t1":14.5,"h0":1.85,"h1":1.95,"temp":270.2},{"t0":14.5,"t1":15.5,"h0":1.85,"h1":1.95,"temp":270},{"t0":15.5,"t1":16.5,"h0":1.85,"h1":1.95,"temp":270},{"t0":16.5,"t1":17.5,"h0":1.85,"h1":1.95,"temp":270},{"t0":17.5,"t1":18.5,"h0":1.85,"h1":1.95,"temp":270},{"t0":18.5,"t1":19.5,"h0":1.85,"h1":1.95,"temp":270},{"t0":19.5,"t1":20.5,"h0":1.85,"h1":1.95,"temp":270},{"t0":20.5,"t1":21.5,"h0":1.85,"h1":1.95,"temp":270},{"t0":21.5,"t1":22.5,"h0":1.85,"h1":1.95,"temp":270},{"t0":22.5,"t1":23.5,"h0":1.85,"h1":1.95,"temp":270},
{"t0":0,"t1":0.5,"h0":1.95,"h1":2,"temp":290},{"t0":0.5,"t1":1.5,"h0":1.95,"h1":2,"temp":290},{"t0":1.5,"t1":2.5,"h0":1.95,"h1":2,"temp":290},{"t0":2.5,"t1":3.5,"h0":1.95,"h1":2,"temp":290},{"t0":3.5,"t1":4.5,"h0":1.95,"h1":2,"temp":290},{"t0":4.5,"t1":5.5,"h0":1.95,"h1":2,"temp":290},{"t0":5.5,"t1":6.5,"h0":1.95,"h1":2,"temp":285.5},{"t0":6.5,"t1":7.5,"h0":1.95,"h1":2,"temp":279.8},{"t0":7.5,"t1":8.5,"h0":1.95,"h1":2,"temp":274.8},{"t0":8.5,"t1":9.5,"h0":1.95,"h1":2,"temp":273.7},{"t0":9.5,"t1":10.5,"h0":1.95,"h1":2,"temp":273.3},{"t0":10.5,"t1":11.5,"h0":1.95,"h1":2,"temp":272.3},{"t0":11.5,"t1":12.5,"h0":1.95,"h1":2,"temp":271.3},{"t0":12.5,"t1":13.5,"h0":1.95,"h1":2,"temp":270},{"t0":13.5,"t1":14.5,"h0":1.95,"h1":2,"temp":270},{"t0":14.5,"t1":15.5,"h0":1.95,"h1":2,"temp":270},{"t0":15.5,"t1":16.5,"h0":1.95,"h1":2,"temp":270},{"t0":16.5,"t1":17.5,"h0":1.95,"h1":2,"temp":270},{"t0":17.5,"t1":18.5,"h0":1.95,"h1":2,"temp":270},{"t0":18.5,"t1":19.5,"h0":1.95,"h1":2,"temp":270},{"t0":19.5,"t1":20.5,"h0":1.95,"h1":2,"temp":270},{"t0":20.5,"t1":21.5,"h0":1.95,"h1":2,"temp":270},{"t0":21.5,"t1":22.5,"h0":1.95,"h1":2,"temp":270},{"t0":22.5,"t1":23.5,"h0":1.95,"h1":2,"temp":270}
]},
"title":{"text":"02-25-2016 MWR Temp","fontSize":22,"offset":2},
"encoding":{"color":{"field":"temp","type":"quantitative","legend":{"orient":"none","legendX":855,"legendY":0,"title":null,"direction":"vertical","gradientLength":733,"gradientThickness":45,"labelFont":"Liberation Sans","labelFontSize":20,"labelColor":"black","values":[270.001,272,274,276,278,280,282,284,286,288,289.999],"format":"d","gradientStrokeColor":"black","gradientStrokeWidth":1,"labelOverlap":false,"labelOffset":3},"scale":{"type":"linear","domain":[270,290],"nice":false,"zero":false,"range":["#00008f","#00009f","#0000af","#0000bf","#0000cf","#0000df","#0000ef","#0000ff","#0010ff","#0020ff","#0030ff","#0040ff","#0050ff","#0060ff","#0070ff","#0080ff","#008fff","#009fff","#00afff","#00bfff","#00cfff","#00dfff","#00efff","#00ffff","#10ffef","#20ffdf","#30ffcf","#40ffbf","#50ffaf","#60ff9f","#70ff8f","#80ff80","#8fff70","#9fff60","#afff50","#bfff40","#cfff30","#dfff20","#efff10","#ffff00","#ffef00","#ffdf00","#ffcf00","#ffbf00","#ffaf00","#ff9f00","#ff8f00","#ff8000","#ff7000","#ff6000","#ff5000","#ff4000","#ff3000","#ff2000","#ff1000","#ff0000","#ef0000","#df0000","#cf0000","#bf0000","#af0000","#9f0000","#8f0000","#800000"]}}},
"layer":[
{"mark":{"type":"rect"},"encoding":{"x":{"field":"t0","type":"quantitative","axis":null},"x2":{"field":"t1"},"y":{"field":"h0","type":"quantitative","axis":null},"y2":{"field":"h1"}}},
{"mark":{"type":"rect"},"encoding":{"x":{"field":"t0","type":"quantitative","axis":null},"x2":{"field":"t1"},"y":{"field":"h0","type":"quantitative","axis":null},"y2":{"field":"h1"}}},
{"mark":{"type":"rect"},"encoding":{
"x":{"field":"t0","type":"quantitative","scale":{"domain":[0,24],"nice":false,"zero":false},"axis":{"orient":"bottom","values":[0,5,10,15,20],"tickSize":-9,"labelPadding":19,"title":"time EST","titlePadding":6}},"x2":{"field":"t1"},
"y":{"field":"h0","type":"quantitative","scale":{"domain":[0,2],"nice":false,"zero":false},"axis":{"orient":"left","values":[0,0.2,0.4,0.6,0.8,1,1.2,1.4,1.6,1.8,2],"format":"~g","tickSize":-9,"labelPadding":16,"title":"height km","titlePadding":9}},"y2":{"field":"h1"}}},
{"mark":{"type":"rect","opacity":0},"encoding":{
"x":{"field":"t0","type":"quantitative","axis":{"orient":"top","values":[0,5,10,15,20],"tickSize":-9,"labels":false,"title":null}},"x2":{"field":"t1"},
"y":{"field":"h0","type":"quantitative","axis":{"orient":"right","values":[0,0.2,0.4,0.6,0.8,1,1.2,1.4,1.6,1.8,2],"tickSize":-9,"labels":false,"title":null}},"y2":{"field":"h1"}}}
],"resolve":{"axis":{"x":"independent","y":"independent"}}}
